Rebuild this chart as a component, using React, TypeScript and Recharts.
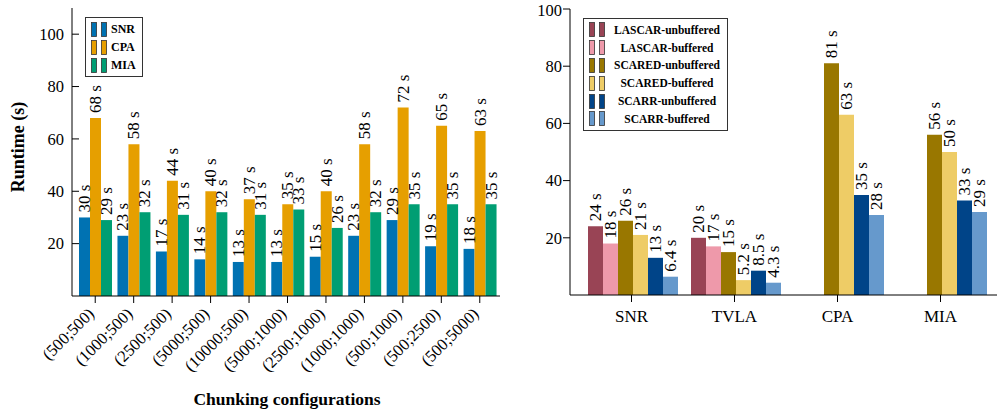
import { BarChart, Bar, XAxis, YAxis, Legend } from 'recharts';

const FONT = "'Liberation Serif', 'DejaVu Serif', serif";

// --- Chunking configurations (left) ---
const chunkConfigs = ['(500;500)', '(1000;500)', '(2500;500)', '(5000;500)', '(10000;500)', '(5000;1000)', '(2500;1000)', '(1000;1000)', '(500;1000)', '(500;2500)', '(500;5000)'];
const snrRuntime = [30, 23, 17, 14, 13, 13, 15, 23, 29, 19, 18];
const cpaRuntime = [68, 58, 44, 40, 37, 35, 40, 58, 72, 65, 63];
const miaRuntime = [29, 32, 31, 32, 31, 33, 26, 32, 35, 35, 35];
const leftTicks = [20, 40, 60, 80, 100];

// --- Buffered vs unbuffered (right) ---
const analyses = ['SNR', 'TVLA', 'CPA', 'MIA'];
const lascarUnbuf = [24, 20, null, null];
const lascarBuf = [18, 17, null, null];
const scaredUnbuf = [26, 15, 81, 56];
const scaredBuf = [21, 5.2, 63, 50];
const scarrUnbuf = [13, 8.5, 35, 33];
const scarrBuf = [6.4, 4.3, 28, 29];
const rightTicks = [20, 40, 60, 80, 100];

const leftSeries = [
    { key: 'snr', name: 'SNR', color: '#0072b2', values: snrRuntime },
    { key: 'cpa', name: 'CPA', color: '#e69f00', values: cpaRuntime },
    { key: 'mia', name: 'MIA', color: '#009e73', values: miaRuntime },
];

const rightSeries = [
    { key: 'lu', name: 'LASCAR-unbuffered', color: '#994455', values: lascarUnbuf },
    { key: 'lb', name: 'LASCAR-buffered', color: '#ee99aa', values: lascarBuf },
    { key: 'su', name: 'SCARED-unbuffered', color: '#997700', values: scaredUnbuf },
    { key: 'sb', name: 'SCARED-buffered', color: '#eecc66', values: scaredBuf },
    { key: 'ru', name: 'SCARR-unbuffered', color: '#004488', values: scarrUnbuf },
    { key: 'rb', name: 'SCARR-buffered', color: '#6699cc', values: scarrBuf },
];

const leftData = chunkConfigs.map((name, i) => {
    const row: any = { name };
    leftSeries.forEach(s => { row[s.key] = s.values[i]; });
    return row;
});

const rightData = analyses.map((name, i) => {
    const row: any = { name };
    rightSeries.forEach(s => { row[s.key] = s.values[i]; });
    return row;
});

const renderValue = (props: any) => {
    const { x, y, width, value } = props;
    if (value == null) return null;
    const cx = Number(x) + Number(width) / 2;
    const ty = Number(y) - 5;
    return (
        <text
            x={cx}
            y={ty}
            transform={`rotate(-90, ${cx}, ${ty})`}
            textAnchor="start"
            dominantBaseline="central"
            fontSize={17}
            fontFamily={FONT}
            fill="#000"
        >
            {`${value} s`}
        </text>
    );
};

const EmptyTick = () => <g />;

const RotatedTick = (props: any) => {
    const { x, y, payload } = props;
    const ax = x - 4;
    const ay = y + 6;
    return (
        <text
            x={ax}
            y={ay}
            transform={`rotate(-45, ${ax}, ${ay})`}
            textAnchor="end"
            dominantBaseline="central"
            fontSize={16.5}
            fontFamily={FONT}
            fill="#000"
        >
            {payload.value}
        </text>
    );
};

const LegendIcon = ({ color }: { color: string }) => (
    <svg width={18} height={15} style={{ display: 'block', flex: 'none' }}>
        <rect x={0.5} y={0.5} width={5} height={14} fill={color} stroke="#333" strokeWidth={0.8} />
        <rect x={10.5} y={0.5} width={5} height={14} fill={color} stroke="#333" strokeWidth={0.8} />
    </svg>
);

const makeLegend = (items: { name: string; color: string }[], w: number, rowH: number, center: boolean, size: number) => () => (
    <div style={{ width: w, border: '1px solid #333', background: '#fff', padding: '2px 0 2px 5px', boxSizing: 'border-box', fontFamily: FONT, fontWeight: 'bold', fontSize: size, color: '#000' }}>
        {items.map(it => (
            <div key={it.name} style={{ display: 'flex', alignItems: 'center', height: rowH }}>
                <LegendIcon color={it.color} />
                <span style={{ flex: 1, textAlign: center ? 'center' : 'left', whiteSpace: 'nowrap', marginLeft: center ? 0 : 2 }}>{it.name}</span>
            </div>
        ))}
    </div>
);

const axisStroke = { stroke: '#000', strokeWidth: 1 };
const tickFont = { fontSize: 16.5, fill: '#000', fontFamily: FONT };

const ChunkingChart = () => (
    <BarChart width={520} height={411} data={leftData} margin={{ top: 8, right: 20, bottom: 0, left: 0 }} barCategoryGap={3} barGap={0} style={{ fontFamily: FONT }}>
        <XAxis dataKey="name" height={115} interval={0} padding={{ left: 4, right: 1 }} tick={<RotatedTick />} tickSize={7} axisLine={axisStroke} tickLine={axisStroke} />
        <XAxis xAxisId="top" orientation="top" dataKey="name" height={0} interval={0} padding={{ left: 4, right: 1 }} tick={<EmptyTick />} tickSize={7} axisLine={axisStroke} tickLine={axisStroke} />
        <YAxis width={72} domain={[0, 110]} ticks={leftTicks} tick={tickFont} tickSize={-7} tickMargin={15} axisLine={axisStroke} tickLine={axisStroke} />
        <YAxis yAxisId="right" orientation="right" width={0} domain={[0, 110]} ticks={leftTicks} tick={<EmptyTick />} tickSize={-7} axisLine={axisStroke} tickLine={axisStroke} />
        <Legend layout="vertical" align="center" verticalAlign="middle" wrapperStyle={{ left: 85, top: 17, width: 'auto' }} content={makeLegend(leftSeries, 58, 18, false, 12)} />
        {leftSeries.map(s => (
            <Bar key={s.key} dataKey={s.key} name={s.name} fill={s.color} isAnimationActive={false} label={renderValue} />
        ))}
    </BarChart>
);

const BufferChart = () => (
    <BarChart width={478} height={411} data={rightData} margin={{ top: 9, right: 0, bottom: 0, left: 0 }} barCategoryGap={8} barGap={0} style={{ fontFamily: FONT }}>
        <XAxis dataKey="name" height={116} interval={0} padding={{ left: 10, right: 6 }} tick={{ ...tickFont, fontSize: 17 }} tickSize={7} tickMargin={8} axisLine={axisStroke} tickLine={axisStroke} />
        <XAxis xAxisId="top" orientation="top" dataKey="name" height={0} interval={0} padding={{ left: 10, right: 6 }} tick={<EmptyTick />} tickSize={7} axisLine={axisStroke} tickLine={axisStroke} />
        <YAxis width={50} domain={[0, 100]} ticks={rightTicks} tick={tickFont} tickSize={7} tickMargin={1} axisLine={axisStroke} tickLine={axisStroke} />
        <YAxis yAxisId="right" orientation="right" width={0} domain={[0, 100]} ticks={rightTicks} tick={<EmptyTick />} tickSize={-5} axisLine={axisStroke} tickLine={axisStroke} />
        <Legend layout="vertical" align="center" verticalAlign="middle" wrapperStyle={{ left: 63, top: 18, width: 'auto' }} content={makeLegend(rightSeries, 145, 17.8, true, 11.5)} />
        {rightSeries.map(s => (
            <Bar key={s.key} dataKey={s.key} name={s.name} fill={s.color} isAnimationActive={false} label={renderValue} />
        ))}
    </BarChart>
);

export default function App() {
    return (
        <div style={{ position: 'absolute', left: 0, top: 0, width: 997, height: 411, overflow: 'hidden', background: '#fff', fontFamily: FONT }}>
            <div style={{ position: 'absolute', left: 0, top: 0 }}>
                <ChunkingChart />
            </div>
            <div style={{ position: 'absolute', left: 520, top: 0 }}>
                <BufferChart />
            </div>
            <div style={{ position: 'absolute', left: 18, top: 147, transform: 'translate(-50%, -50%) rotate(-90deg)', fontFamily: FONT, fontWeight: 'bold', fontSize: 18, whiteSpace: 'nowrap' }}>
                Runtime (s)
            </div>
            <div style={{ position: 'absolute', left: 287, top: 399, transform: 'translate(-50%, -50%)', fontFamily: FONT, fontWeight: 'bold', fontSize: 17.5, whiteSpace: 'nowrap' }}>
                Chunking configurations
            </div>
        </div>
    );
}
